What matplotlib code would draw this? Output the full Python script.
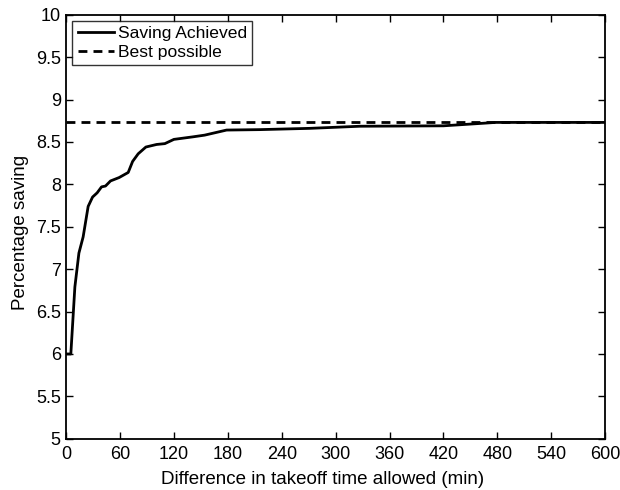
import matplotlib
matplotlib.use('Agg')
import matplotlib.pyplot as plt

plt.rcParams['font.family'] = ['Liberation Sans', 'DejaVu Sans']

# Saving achieved vs allowed takeoff time difference
time_allowed = [1, 5, 9.5, 14, 18.7, 24.3, 29.2, 34.3, 39.2, 43.6, 49.2, 58.8, 68.9,
                73.8, 80, 88.6, 100.5, 109.7, 119.8, 141, 154, 178.5, 215, 271,
                327, 420, 464, 478, 600]
saving = [6.0, 6.0, 6.79, 7.19, 7.38, 7.74, 7.85, 7.90, 7.97, 7.98, 8.04, 8.08, 8.14,
          8.27, 8.36, 8.44, 8.47, 8.48, 8.53, 8.56, 8.58, 8.64, 8.645, 8.66,
          8.685, 8.69, 8.72, 8.73, 8.73]
best_possible = 8.73

x_ticks = [0, 60, 120, 180, 240, 300, 360, 420, 480, 540, 600]
y_ticks = [5, 5.5, 6, 6.5, 7, 7.5, 8, 8.5, 9, 9.5, 10]

fig = plt.figure(figsize=(6.2, 4.9), dpi=100)
ax = fig.add_axes([0.107, 0.1045, 0.869, 0.8655])

ax.plot(time_allowed, saving, color='black', linewidth=2, label='Saving Achieved')
ax.axhline(best_possible, color='black', linewidth=2, linestyle=(0, (3.2, 2.2)),
           label='Best possible')

ax.set_xlim(0, 600)
ax.set_ylim(5, 10)
ax.set_xticks(x_ticks)
ax.set_yticks(y_ticks)
ax.set_yticklabels([f'{v:g}' for v in y_ticks])
ax.tick_params(direction='in', top=True, right=True, labelsize=13, length=5, width=1)
ax.tick_params(axis='x', pad=5)
ax.tick_params(axis='y', pad=4)
for s in ax.spines.values():
    s.set_linewidth(1.3)

ax.set_xlabel('Difference in takeoff time allowed (min)', fontsize=13.5)
ax.set_ylabel('Percentage saving', fontsize=13.5)
ax.xaxis.set_label_coords(0.476, -0.075)
ax.yaxis.set_label_coords(-0.070, 0.487)

leg = ax.legend(loc='upper left', fontsize=12.6, frameon=True, fancybox=False,
                borderpad=0.3, handlelength=2.05, handletextpad=0.25,
                labelspacing=0.2, borderaxespad=0.35)
leg.get_frame().set_edgecolor('black')
leg.get_frame().set_linewidth(1)

fig.savefig('out.png', dpi=100)
